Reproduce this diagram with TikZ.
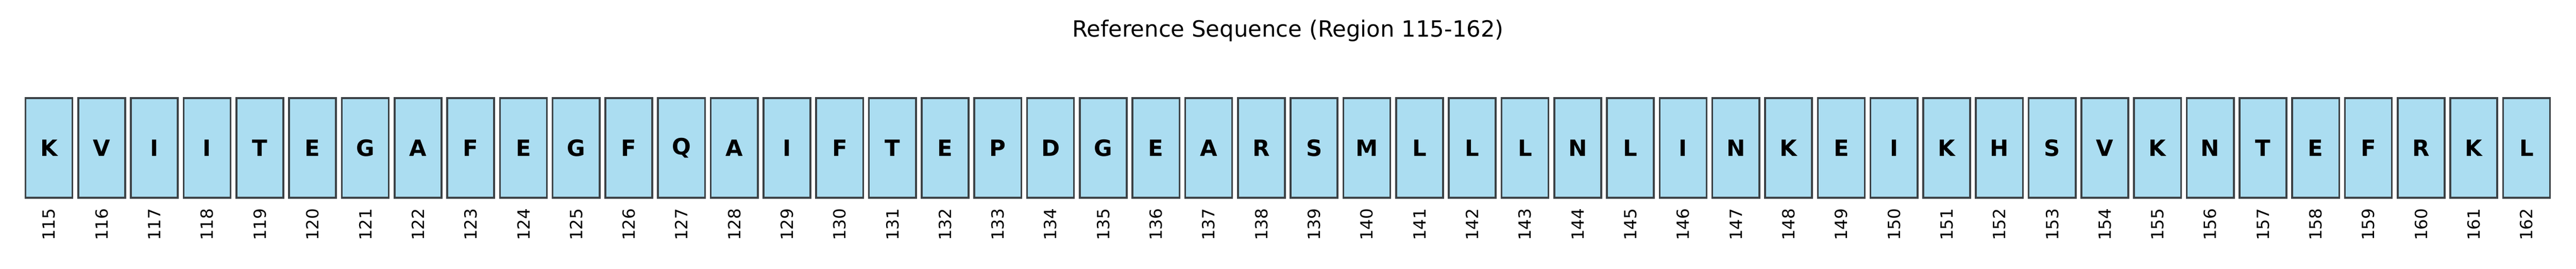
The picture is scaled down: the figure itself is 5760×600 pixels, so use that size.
\documentclass[tikz,border=0pt]{standalone}
\usepackage{fontspec}
\setmainfont{DejaVu Sans}
\definecolor{resfill}{RGB}{171,221,241}
\definecolor{resedge}{RGB}{60,66,70}

\begin{document}
\begin{tikzpicture}[x = 0.24pt, y = -0.24pt, text = black,
  resbox/.style = {draw = resedge, fill = resfill, line width = 1pt,
    minimum width = 25.2pt, minimum height = 53.5pt, inner sep = 0,
    font = \fontsize{12}{14}\selectfont\bfseries},
  resnum/.style = {rotate = 90, anchor = east, inner sep = 0,
    font = \fontsize{9}{11}\selectfont}]
  \useasboundingbox (0, 0) rectangle (5760, 600);

  \node [anchor = base, font = \fontsize{12}{14}\selectfont] (title) at (2880, 82)
    {Reference Sequence (Region 115-162)};

  \foreach \res [count = \i from 0] in {K,V,I,I,T,E,G,A,F,E,G,F,Q,A,I,F,T,E,P,D,G,E,A,R,S,M,L,L,L,N,L,I,N,K,E,I,K,H,S,V,K,N,T,E,F,R,K,L}
  {
  \node [resbox] (box\i) at ({109.5 + \i*117.87}, 330) {\res};
  \node [resnum] (num\i) at ([yshift = -5pt] box\i.south) {\the\numexpr115+\i\relax};
}
\end{tikzpicture}
\end{document}
